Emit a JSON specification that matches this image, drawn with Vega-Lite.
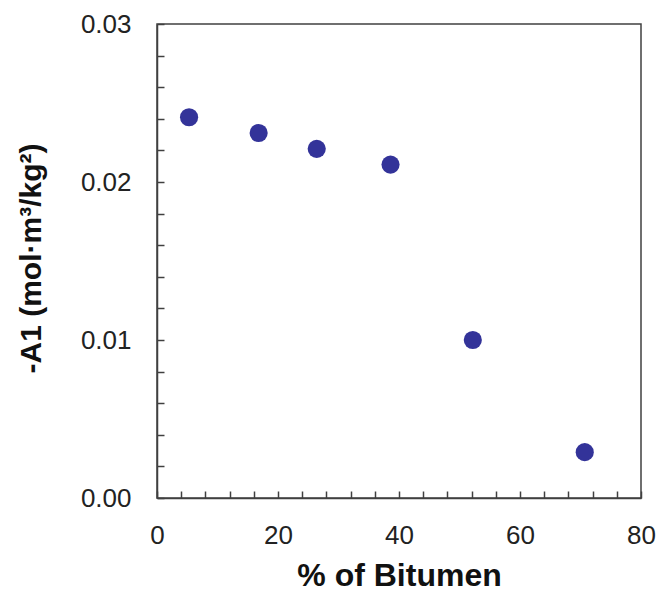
{
  "$schema": "https://vega.github.io/schema/vega-lite/v6.json",
  "autosize": "none",
  "width": 484,
  "height": 474,
  "padding": {"left": 157, "top": 24, "right": 21, "bottom": 94},
  "background": "white",
  "data": {
    "values": [
      {"bitumen": 5.3, "a1": 0.0241},
      {"bitumen": 16.8, "a1": 0.0231},
      {"bitumen": 26.4, "a1": 0.0221},
      {"bitumen": 38.6, "a1": 0.0211},
      {"bitumen": 52.2, "a1": 0.0100},
      {"bitumen": 70.7, "a1": 0.0029}
    ]
  },
  "mark": {"type": "circle", "size": 330, "color": "#333399", "opacity": 1},
  "encoding": {
    "x": {
      "field": "bitumen",
      "type": "quantitative",
      "scale": {"domain": [0, 80], "nice": false},
      "axis": {
        "title": "% of Bitumen",
        "values": [0, 4, 8, 12, 16, 20, 24, 28, 32, 36, 40, 44, 48, 52, 56, 60, 64, 68, 72, 76, 80],
        "labelExpr": "datum.value % 20 == 0 ? datum.label : ''",
        "labelFlush": false,
        "tickSize": -7,
        "labelPadding": 31,
        "grid": false,
        "titleFontSize": 32,
        "titleY": 87,
        "titleBaseline": "alphabetic"
      }
    },
    "y": {
      "field": "a1",
      "type": "quantitative",
      "scale": {"domain": [0, 0.03], "nice": false},
      "axis": {
        "title": "-A1 (mol·m³/kg²)",
        "values": [0, 0.002, 0.004, 0.006, 0.008, 0.01, 0.012, 0.014, 0.016, 0.018, 0.02, 0.022, 0.024, 0.026, 0.028, 0.03],
        "format": ".2f",
        "labelExpr": "round(datum.value * 1000) % 10 == 0 ? datum.label : ''",
        "labelFlush": false,
        "tickSize": -7,
        "labelPadding": 33,
        "grid": false,
        "titleX": -126,
        "titleY": 234,
        "titleAlign": "center",
        "titleBaseline": "middle"
      }
    }
  },
  "config": {
    "view": {"stroke": "#404040", "strokeWidth": 1.5},
    "axis": {
      "domainColor": "#404040",
      "domainWidth": 1.5,
      "tickColor": "#404040",
      "tickWidth": 1.5,
      "labelFont": "Liberation Sans",
      "labelFontSize": 26,
      "labelColor": "#222222",
      "titleFont": "Liberation Sans",
      "titleFontSize": 30,
      "titleFontWeight": "bold",
      "titleColor": "#111111",
      "labelOverlap": false
    }
  }
}
